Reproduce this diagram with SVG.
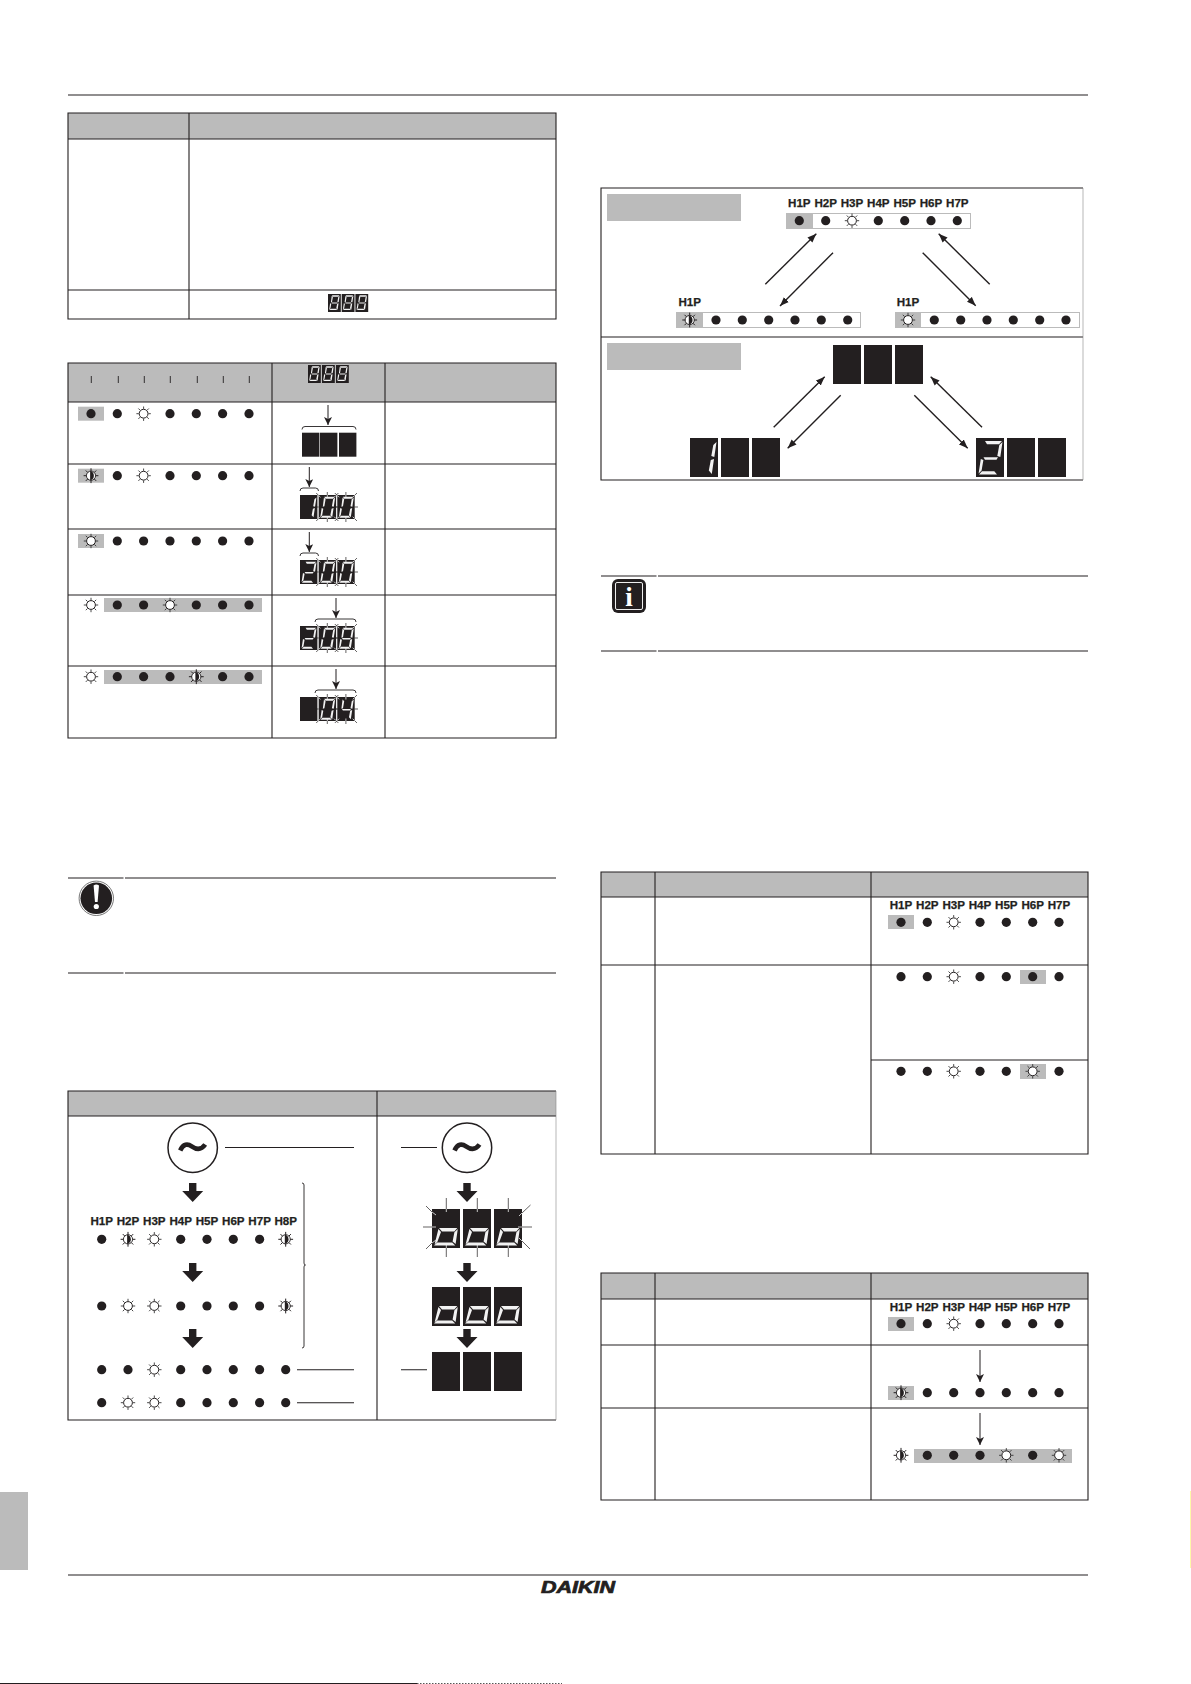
<svg xmlns="http://www.w3.org/2000/svg" xmlns:xlink="http://www.w3.org/1999/xlink" width="1191" height="1684" viewBox="0 0 1191 1684">
<style>
.g{fill:#bbbbbb}
.k{fill:#231f20}
.ln{stroke:#231f20;stroke-width:1.1;fill:none}
.th{stroke:#231f20;stroke-width:.9;fill:none}
.ar{stroke:#231f20;stroke-width:1;fill:none;marker-end:url(#ah)}
.dg{stroke:#231f20;stroke-width:1.4;fill:none;marker-end:url(#ad)}
.lb{font-family:"Liberation Sans",Arial,sans-serif;font-weight:700;font-size:11.6px;fill:#231f20;stroke:#231f20;stroke-width:.25;text-anchor:middle}
.seg{fill:#f2f2f2}
.ro{stroke:#231f20;stroke-width:.7;fill:none}
.ri{stroke:#f0f0f0;stroke-width:.8;fill:none}
</style>
<defs>
<marker id="ah" markerUnits="userSpaceOnUse" markerWidth="10" markerHeight="8" refX="9" refY="4" orient="auto"><path d="M1,0 L9,4 L1,8 L3,4 Z" fill="#231f20"/></marker>
<marker id="ad" markerUnits="userSpaceOnUse" markerWidth="10" markerHeight="8" refX="9" refY="4" orient="auto"><path d="M0,.5 L9,4 L0,7.5 Z" fill="#231f20"/></marker>
<circle id="on" r="4.6" fill="#231f20"/>
<g id="sun"><circle r="4.4" fill="#fff" stroke="#231f20" stroke-width="1"/><path d="M0,-7.2V-4.8M0,7.2V4.8M-7.2,0H-4.8M7.2,0H4.8M-5.2,-5.2L-3.4,-3.4M5.2,5.2L3.4,3.4M-5.2,5.2L-3.4,3.4M5.2,-5.2L3.4,-3.4" stroke="#333" stroke-width=".9" fill="none"/></g>
<g id="half"><circle r="4.6" fill="#fff" stroke="#231f20" stroke-width=".9"/><path d="M-.9,-4.6A4.7,4.7 0 0 1 -.9,4.6Z" fill="#231f20"/><path d="M0,-7.4V-4.4M0,7.4V4.4M-7.4,0H-4.4M7.4,0H4.4M-5.2,-5.2L-3.2,-3.2M5.2,5.2L3.2,3.2M-5.2,5.2L-3.2,3.2M5.2,-5.2L3.2,-3.2" stroke="#231f20" stroke-width="1" fill="none"/></g>
<path id="d8" class="seg" d="M9,3H26L23,6.2H11ZM26.5,4L24.3,19L21.3,18L23.3,7ZM24,21L21.8,36L18.8,32.5L20.8,22ZM3,36.5H21L18.3,33.3H6ZM4.8,21L2.6,35.6L5.6,32.5L7.4,22ZM8.5,4L6.6,19L9.2,18L11.1,7ZM7.5,19.2H22L20.5,21.8H9Z"/>
<path id="d0" class="seg" d="M9,3H26L23,6.2H11ZM26.5,4L24.3,19L21.3,18L23.3,7ZM24,21L21.8,36L18.8,32.5L20.8,22ZM3,36.5H21L18.3,33.3H6ZM4.8,21L2.6,35.6L5.6,32.5L7.4,22ZM8.5,4L6.6,19L9.2,18L11.1,7Z"/>
<path id="d1" class="seg" d="M26.5,4L24.3,19L21.3,18L23.3,7ZM24,21L21.8,36L18.8,32.5L20.8,22Z"/>
<path id="d2" class="seg" d="M9,3H26L23,6.2H11ZM26.5,4L24.3,19L21.3,18L23.3,7ZM3,36.5H21L18.3,33.3H6ZM4.8,21L2.6,35.6L5.6,32.5L7.4,22ZM7.5,19.2H22L20.5,21.8H9Z"/>
<path id="d4" class="seg" d="M26.5,4L24.3,19L21.3,18L23.3,7ZM24,21L21.8,36L18.8,32.5L20.8,22ZM8.5,4L6.6,19L9.2,18L11.1,7ZM7.5,19.2H22L20.5,21.8H9Z"/>
<path id="dO" class="seg" d="M7,19H25.3L22.3,22.4H10ZM25.8,20L23.6,35L20.6,32.5L22.4,23.2ZM2,36.6H23.2L20.2,33.6H5.2ZM6.4,20L2.6,35.6L5.4,32.8L9,23Z"/>
<g id="bl">
<path class="ro" d="M8.6,-3V0M8.6,27V24M-2.5,-2L0,.5M19.7,-2L17.2,.5M-2.5,26L0,23.5M19.7,26L17.2,23.5M-3.5,12H0M20.7,12H17.2"/>
<path class="ri" d="M8.6,0V2.5M8.6,24V21.5M0,.5L1.8,2.3M17.2,.5L15.4,2.3M0,23.5L1.8,21.7M17.2,23.5L15.4,21.7"/>
</g>
<path id="fat" class="k" d="M-3.7,0H3.7V8H10.5L0,19L-10.5,8H-3.7Z"/>
<rect id="c17" class="k" width="17.4" height="24"/>
<rect id="c28" class="k" width="28" height="39"/>
<path id="tilde" d="M-12.5,2.8C-9.5,-4 -5,-4.2 -1,-1.3C3,1.5 8,3.2 12.5,-3.2" fill="none" stroke="#231f20" stroke-width="4.6"/>
<g id="mini"><rect class="k" width="12.8" height="18"/><use href="#d8" transform="scale(.44,.44)"/></g>
</defs>

<rect width="1191" height="1684" fill="#fff"/>

<g id="page-frame">
<path class="ln" d="M68,95H1088"/>
<path class="ln" d="M68,1575H1088"/>
<rect class="g" x="0" y="1492" width="28" height="78"/>
<path d="M1190.5,1491V1568" stroke="#fff9a8" stroke-width="1" fill="none"/>
<path d="M0,1683.5H417" stroke="#231f20" stroke-width="1" fill="none"/>
<path d="M417,1683.5H562" stroke="#555" stroke-width="1" stroke-dasharray="1.5 1.5" fill="none"/>
<text x="578" y="1593" text-anchor="middle" textLength="74" lengthAdjust="spacingAndGlyphs" font-family="'Liberation Sans',Arial,sans-serif" font-weight="700" font-style="italic" font-size="16.5" fill="#231f20" stroke="#231f20" stroke-width=".7">DAIKIN</text>
</g>

<g id="table-1">
<rect class="g" x="68" y="113" width="488" height="26"/>
<path class="ln" d="M68,113H556V319H68ZM68,139H556M68,290H556M189,113V319"/>
<g id="t1-display" transform="translate(328,294)"><use href="#mini"/><use href="#mini" x="13.7"/><use href="#mini" x="27.4"/></g>
</g>

<g id="table-2">
<rect class="g" x="68" y="363" width="488" height="39"/>
<path class="ln" d="M68,363H556V738H68ZM68,402H556M68,464H556M68,529H556M68,595H556M68,666H556M272,363V738M385,363V738"/>
<path class="th" d="M91.3,376V383M118.3,376V383M144.3,376V383M170.3,376V383M197.3,376V383M223.3,376V383M249.3,376V383"/>
<g id="t2-display" transform="translate(308,365)"><use href="#mini"/><use href="#mini" x="14"/><use href="#mini" x="28"/></g>
<g id="t2-row1">
<rect class="g" x="78" y="406.7" width="26" height="14"/>
<use href="#on" x="91" y="413.7"/><use href="#on" x="117.3" y="413.7"/><use href="#sun" x="143.6" y="413.7"/><use href="#on" x="170" y="413.7"/><use href="#on" x="196.3" y="413.7"/><use href="#on" x="222.6" y="413.7"/><use href="#on" x="249" y="413.7"/>
<use href="#c17" x="302" y="432.7"/><use href="#c17" x="320" y="432.7"/><use href="#c17" x="339" y="432.7"/>
<path class="th" d="M302,429.5Q302,426.5 305,426.5H353Q356,426.5 356,429.5"/>
</g>
<g id="t2-row2">
<rect class="g" x="78" y="468.7" width="26" height="14"/>
<use href="#half" x="91" y="475.7"/><use href="#on" x="117.3" y="475.7"/><use href="#sun" x="143.6" y="475.7"/><use href="#on" x="170" y="475.7"/><use href="#on" x="196.3" y="475.7"/><use href="#on" x="222.6" y="475.7"/><use href="#on" x="249" y="475.7"/>
<use href="#c17" x="300" y="495"/><use href="#c17" x="318.7" y="495"/><use href="#c17" x="337.3" y="495"/>
<use href="#d1" transform="translate(300,495) scale(.62)"/><use href="#d0" transform="translate(318.7,495) scale(.62)"/><use href="#d0" transform="translate(337.3,495) scale(.62)"/>
<use href="#bl" x="318.7" y="495"/><use href="#bl" x="337.3" y="495"/>
<path class="th" d="M300,491Q300,488 303,488H315.5Q318.5,488 318.5,491"/>
</g>
<g id="t2-row3">
<rect class="g" x="78" y="534" width="26" height="14"/>
<use href="#sun" x="91" y="541"/><use href="#on" x="117.3" y="541"/><use href="#on" x="143.6" y="541"/><use href="#on" x="170" y="541"/><use href="#on" x="196.3" y="541"/><use href="#on" x="222.6" y="541"/><use href="#on" x="249" y="541"/>
<use href="#c17" x="300" y="560"/><use href="#c17" x="318.7" y="560"/><use href="#c17" x="337.3" y="560"/>
<use href="#d2" transform="translate(300,560) scale(.62)"/><use href="#d0" transform="translate(318.7,560) scale(.62)"/><use href="#d0" transform="translate(337.3,560) scale(.62)"/>
<use href="#bl" x="318.7" y="560"/><use href="#bl" x="337.3" y="560"/>
<path class="th" d="M300,556Q300,553 303,553H315.5Q318.5,553 318.5,556"/>
</g>
<g id="t2-row4">
<rect class="g" x="104" y="598" width="158" height="14"/>
<use href="#sun" x="91" y="605"/><use href="#on" x="117.3" y="605"/><use href="#on" x="143.6" y="605"/><use href="#sun" x="170" y="605"/><use href="#on" x="196.3" y="605"/><use href="#on" x="222.6" y="605"/><use href="#on" x="249" y="605"/>
<use href="#c17" x="300" y="626"/><use href="#c17" x="318.7" y="626"/><use href="#c17" x="337.3" y="626"/>
<use href="#d2" transform="translate(300,626) scale(.62)"/><use href="#d0" transform="translate(318.7,626) scale(.62)"/><use href="#d8" transform="translate(337.3,626) scale(.62)"/>
<use href="#bl" x="318.7" y="626"/><use href="#bl" x="337.3" y="626"/>
<path class="th" d="M315,622Q315,619 318,619H353Q356,619 356,622"/>
</g>
<g id="t2-row5">
<rect class="g" x="104" y="670" width="158" height="14"/>
<use href="#sun" x="91" y="676.7"/><use href="#on" x="117.3" y="676.7"/><use href="#on" x="143.6" y="676.7"/><use href="#on" x="170" y="676.7"/><use href="#half" x="196.3" y="676.7"/><use href="#on" x="222.6" y="676.7"/><use href="#on" x="249" y="676.7"/>
<use href="#c17" x="300" y="697"/><use href="#c17" x="318.7" y="697"/><use href="#c17" x="337.3" y="697"/>
<use href="#d0" transform="translate(318.7,697) scale(.62)"/><use href="#d4" transform="translate(337.3,697) scale(.62)"/>
<use href="#bl" x="318.7" y="697"/><use href="#bl" x="337.3" y="697"/>
<path class="th" d="M315,693Q315,690 318,690H353Q356,690 356,693"/>
</g>
</g>

<g id="notice-1">
<path class="ln" d="M68,878H123.5M125,878H556M68,973H123.5M125,973H556"/>
<circle cx="96.3" cy="898.3" r="17.2" fill="none" stroke="#666" stroke-width=".9"/>
<circle cx="96.3" cy="898.3" r="15.8" fill="#231f20"/>
<path d="M93.6,885.5Q96.3,883.5 99,885.5L97.6,902H95Z" fill="#fff"/>
<circle cx="96.3" cy="906.5" r="2.6" fill="#fff"/>
</g>

<g id="table-3">
<rect class="g" x="68" y="1091" width="488" height="25"/>
<path class="ln" d="M556,1091H68V1420H556M68,1116H556M377,1091V1420"/>
<path d="M556,1091V1420" stroke="#888" stroke-width=".6" fill="none"/>
<g id="t3-left">
<circle cx="192.7" cy="1147.7" r="24.7" fill="#fff" stroke="#231f20" stroke-width="1.5"/>
<use href="#tilde" x="192.7" y="1147.7"/>
<use href="#fat" x="192.7" y="1183"/><use href="#fat" x="192.7" y="1263"/><use href="#fat" x="192.7" y="1329"/>
<text class="lb" x="101.7" y="1225">H1P</text><text class="lb" x="128" y="1225">H2P</text><text class="lb" x="154.3" y="1225">H3P</text><text class="lb" x="180.7" y="1225">H4P</text><text class="lb" x="207" y="1225">H5P</text><text class="lb" x="233.3" y="1225">H6P</text><text class="lb" x="259.6" y="1225">H7P</text><text class="lb" x="285.7" y="1225">H8P</text>
<use href="#on" x="101.7" y="1239.3"/><use href="#half" x="128" y="1239.3"/><use href="#sun" x="154.3" y="1239.3"/><use href="#on" x="180.7" y="1239.3"/><use href="#on" x="207" y="1239.3"/><use href="#on" x="233.3" y="1239.3"/><use href="#on" x="259.6" y="1239.3"/><use href="#half" x="285.7" y="1239.3"/>
<use href="#on" x="101.7" y="1306"/><use href="#sun" x="128" y="1306"/><use href="#sun" x="154.3" y="1306"/><use href="#on" x="180.7" y="1306"/><use href="#on" x="207" y="1306"/><use href="#on" x="233.3" y="1306"/><use href="#on" x="259.6" y="1306"/><use href="#half" x="285.7" y="1306"/>
<use href="#on" x="101.7" y="1369.7"/><use href="#on" x="128" y="1369.7"/><use href="#sun" x="154.3" y="1369.7"/><use href="#on" x="180.7" y="1369.7"/><use href="#on" x="207" y="1369.7"/><use href="#on" x="233.3" y="1369.7"/><use href="#on" x="259.6" y="1369.7"/><use href="#on" x="285.7" y="1369.7"/>
<use href="#on" x="101.7" y="1402.7"/><use href="#sun" x="128" y="1402.7"/><use href="#sun" x="154.3" y="1402.7"/><use href="#on" x="180.7" y="1402.7"/><use href="#on" x="207" y="1402.7"/><use href="#on" x="233.3" y="1402.7"/><use href="#on" x="259.6" y="1402.7"/><use href="#on" x="285.7" y="1402.7"/>
<path class="th" d="M302,1183Q304,1183 304,1185V1263Q304,1265 305.5,1265Q304,1265 304,1267V1346Q304,1348 302,1348"/>
</g>
<g id="t3-right">
<circle cx="467" cy="1147.7" r="24.7" fill="#fff" stroke="#231f20" stroke-width="1.5"/>
<use href="#tilde" x="467" y="1147.7"/>
<use href="#fat" x="467" y="1183"/><use href="#fat" x="467" y="1263"/><use href="#fat" x="467" y="1329"/>
<use href="#c28" x="432" y="1209"/><use href="#c28" x="463" y="1209"/><use href="#c28" x="494" y="1209"/>
<use href="#dO" x="432" y="1209"/><use href="#dO" x="463" y="1209"/><use href="#dO" x="494" y="1209"/>
<path class="ro" d="M446.3,1198V1209M477.3,1198V1209M508.3,1198V1209M446.3,1257V1248M477.3,1257V1248M508.3,1257V1248M426,1206L432,1212M423,1227H432M426,1249L432,1243M530.5,1205L522,1213M522,1227H532M522,1241L530,1249"/>
<path class="ri" d="M446.3,1209V1212M477.3,1209V1212M508.3,1209V1212M446.3,1248V1245M477.3,1248V1245M508.3,1248V1245M432,1212L436,1215M432,1227H436M432,1243L436,1240M522,1213L519,1216M522,1227H518M522,1241L519,1238"/>
<use href="#c28" x="432" y="1287"/><use href="#c28" x="463" y="1287"/><use href="#c28" x="494" y="1287"/>
<use href="#dO" x="432" y="1287"/><use href="#dO" x="463" y="1287"/><use href="#dO" x="494" y="1287"/>
<use href="#c28" x="432" y="1352"/><use href="#c28" x="463" y="1352"/><use href="#c28" x="494" y="1352"/>
</g>
</g>

<g id="panel">
<path class="ln" d="M1083,188H601V480H1083M601,337H1083"/>
<path d="M1083,188V480" stroke="#888" stroke-width=".6" fill="none"/>
<rect class="g" x="607" y="194" width="134" height="27"/>
<rect class="g" x="607" y="343" width="134" height="27"/>
<g id="panel-top-leds">
<rect x="786.5" y="213.5" width="184" height="15" fill="#fff" stroke="#bbb" stroke-width="1"/>
<rect class="g" x="786" y="213" width="27" height="16"/>
<text class="lb" x="799.3" y="206.7">H1P</text><text class="lb" x="825.7" y="206.7">H2P</text><text class="lb" x="852" y="206.7">H3P</text><text class="lb" x="878.3" y="206.7">H4P</text><text class="lb" x="904.7" y="206.7">H5P</text><text class="lb" x="931" y="206.7">H6P</text><text class="lb" x="957.3" y="206.7">H7P</text>
<use href="#on" x="799.3" y="220.7"/><use href="#on" x="825.7" y="220.7"/><use href="#sun" x="852" y="220.7"/><use href="#on" x="878.3" y="220.7"/><use href="#on" x="904.7" y="220.7"/><use href="#on" x="931" y="220.7"/><use href="#on" x="957.3" y="220.7"/>
</g>
<g id="panel-left-leds">
<rect x="676.5" y="312.5" width="184" height="15" fill="#fff" stroke="#bbb" stroke-width="1"/>
<rect class="g" x="676" y="312" width="27" height="16"/>
<text class="lb" x="689.7" y="306">H1P</text>
<use href="#half" x="689.7" y="320"/><use href="#on" x="716" y="320"/><use href="#on" x="742.3" y="320"/><use href="#on" x="768.7" y="320"/><use href="#on" x="795" y="320"/><use href="#on" x="821.3" y="320"/><use href="#on" x="847.7" y="320"/>
</g>
<g id="panel-right-leds">
<rect x="895.5" y="312.5" width="184" height="15" fill="#fff" stroke="#bbb" stroke-width="1"/>
<rect class="g" x="895" y="312" width="26" height="16"/>
<text class="lb" x="908" y="306">H1P</text>
<use href="#sun" x="908" y="320"/><use href="#on" x="934.3" y="320"/><use href="#on" x="960.7" y="320"/><use href="#on" x="987" y="320"/><use href="#on" x="1013.3" y="320"/><use href="#on" x="1039.7" y="320"/><use href="#on" x="1066" y="320"/>
</g>
<g id="panel-display-top"><use href="#c28" x="833" y="345"/><use href="#c28" x="864" y="345"/><use href="#c28" x="895" y="345"/></g>
<g id="panel-display-left"><use href="#c28" x="690" y="438"/><use href="#c28" x="721" y="438"/><use href="#c28" x="752" y="438"/><use href="#d1" x="690" y="438"/></g>
<g id="panel-display-right"><use href="#c28" x="976" y="438"/><use href="#c28" x="1007" y="438"/><use href="#c28" x="1038" y="438"/><use href="#d2" x="976" y="438"/></g>
</g>

<g id="notice-2">
<path class="ln" d="M601,576H656.5M658,576H1088M601,651H656.5M658,651H1088"/>
<rect x="612" y="579" width="34" height="34" rx="6" fill="#231f20"/>
<rect x="615.5" y="582.5" width="27" height="27" rx="1.5" fill="none" stroke="#eee" stroke-width="1"/>
<text x="629" y="606" text-anchor="middle" font-family="'Liberation Serif','Times New Roman',serif" font-weight="700" font-size="27" fill="#fff">i</text>
</g>

<g id="table-4">
<rect class="g" x="601" y="872" width="487" height="25"/>
<path class="ln" d="M601,872H1088V1154H601ZM601,897H1088M601,965H1088M871,1060H1088M655,872V1154M871,872V1154"/>
<rect class="g" x="888" y="915" width="26" height="14"/>
<rect class="g" x="1020" y="970" width="26" height="14"/>
<rect class="g" x="1020" y="1064" width="26" height="15"/>
<text class="lb" x="901" y="908.7">H1P</text><text class="lb" x="927.3" y="908.7">H2P</text><text class="lb" x="953.7" y="908.7">H3P</text><text class="lb" x="980" y="908.7">H4P</text><text class="lb" x="1006.3" y="908.7">H5P</text><text class="lb" x="1032.7" y="908.7">H6P</text><text class="lb" x="1059" y="908.7">H7P</text>
<use href="#on" x="901" y="922.3"/><use href="#on" x="927.3" y="922.3"/><use href="#sun" x="953.7" y="922.3"/><use href="#on" x="980" y="922.3"/><use href="#on" x="1006.3" y="922.3"/><use href="#on" x="1032.7" y="922.3"/><use href="#on" x="1059" y="922.3"/>
<use href="#on" x="901" y="976.7"/><use href="#on" x="927.3" y="976.7"/><use href="#sun" x="953.7" y="976.7"/><use href="#on" x="980" y="976.7"/><use href="#on" x="1006.3" y="976.7"/><use href="#on" x="1032.7" y="976.7"/><use href="#on" x="1059" y="976.7"/>
<use href="#on" x="901" y="1071.3"/><use href="#on" x="927.3" y="1071.3"/><use href="#sun" x="953.7" y="1071.3"/><use href="#on" x="980" y="1071.3"/><use href="#on" x="1006.3" y="1071.3"/><use href="#sun" x="1032.7" y="1071.3"/><use href="#on" x="1059" y="1071.3"/>
</g>

<g id="table-5">
<rect class="g" x="601" y="1273" width="487" height="26"/>
<path class="ln" d="M601,1273H1088V1500H601ZM601,1299H1088M601,1345H1088M601,1408H1088M655,1273V1500M871,1273V1500"/>
<rect class="g" x="888" y="1317" width="26" height="14"/>
<rect class="g" x="888" y="1386" width="26" height="14"/>
<rect class="g" x="914" y="1449" width="158" height="14"/>
<text class="lb" x="901" y="1311">H1P</text><text class="lb" x="927.3" y="1311">H2P</text><text class="lb" x="953.7" y="1311">H3P</text><text class="lb" x="980" y="1311">H4P</text><text class="lb" x="1006.3" y="1311">H5P</text><text class="lb" x="1032.7" y="1311">H6P</text><text class="lb" x="1059" y="1311">H7P</text>
<use href="#on" x="901" y="1323.7"/><use href="#on" x="927.3" y="1323.7"/><use href="#sun" x="953.7" y="1323.7"/><use href="#on" x="980" y="1323.7"/><use href="#on" x="1006.3" y="1323.7"/><use href="#on" x="1032.7" y="1323.7"/><use href="#on" x="1059" y="1323.7"/>
<use href="#half" x="901" y="1392.7"/><use href="#on" x="927.3" y="1392.7"/><use href="#on" x="953.7" y="1392.7"/><use href="#on" x="980" y="1392.7"/><use href="#on" x="1006.3" y="1392.7"/><use href="#on" x="1032.7" y="1392.7"/><use href="#on" x="1059" y="1392.7"/>
<use href="#half" x="901" y="1455.3"/><use href="#on" x="927.3" y="1455.3"/><use href="#on" x="953.7" y="1455.3"/><use href="#on" x="980" y="1455.3"/><use href="#sun" x="1006.3" y="1455.3"/><use href="#on" x="1032.7" y="1455.3"/><use href="#sun" x="1059" y="1455.3"/>
</g>

<g id="connectors">
<path class="ar" d="M328,405V425"/>
<path class="ar" d="M309.3,467V487"/>
<path class="ar" d="M309.3,532V552"/>
<path class="ar" d="M336,598V618"/>
<path class="ar" d="M336,669V689"/>
<path class="ar" d="M980,1350V1382"/>
<path class="ar" d="M980,1413V1445"/>
<path class="ln" d="M225,1147.5H354M401,1147.5H437M297,1369.7H354M401,1369.7H427M297,1402.7H354"/>
<path class="dg" d="M765.3,284.3L816.3,233.7"/>
<path class="dg" d="M833,252.7L780,306"/>
<path class="dg" d="M922.7,252.7L975.7,305.7"/>
<path class="dg" d="M989.7,284.3L938.7,233.7"/>
<path class="dg" d="M773.7,427.3L824.7,376.7"/>
<path class="dg" d="M840.7,395.3L787.7,448.3"/>
<path class="dg" d="M914.3,395.3L967.7,448.3"/>
<path class="dg" d="M982,427.3L930.7,376.7"/>
</g>
</svg>
